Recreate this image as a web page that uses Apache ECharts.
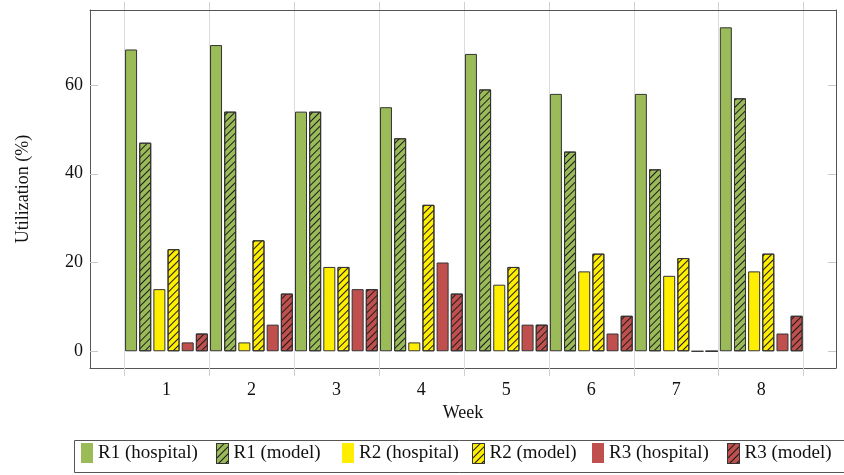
<!DOCTYPE html>
<html>
<head>
<meta charset="utf-8">
<script src="https://cdn.jsdelivr.net/npm/echarts@6/dist/echarts.min.js"></script>
<style>html,body{margin:0;padding:0;background:#fff}#c{width:844px;height:475px}</style>
</head>
<body>
<div id="c"></div>
<script>
// ---- data ----
const weeks = [1, 2, 3, 4, 5, 6, 7, 8];
const weekLabels = ['1', '2', '3', '4', '5', '6', '7', '8'];
const seriesNames = ['R1 (hospital)', 'R1 (model)', 'R2 (hospital)', 'R2 (model)', 'R3 (hospital)', 'R3 (model)'];
const r1Hospital = [68, 69, 54, 55, 67, 58, 58, 73];
const r1Model    = [47, 54, 54, 48, 59, 45, 41, 57];
const r2Hospital = [14, 2, 19, 2, 15, 18, 17, 18];
const r2Model    = [23, 25, 19, 33, 19, 22, 21, 22];
const r3Hospital = [2, 6, 14, 20, 6, 4, 0, 4];
const r3Model    = [4, 13, 14, 13, 6, 8, 0, 8];
const yTicks = [0, 20, 40, 60];
const weekBounds = [0.5, 1.5, 2.5, 3.5, 4.5, 5.5, 6.5, 7.5, 8.5];

const values = [r1Hospital, r1Model, r2Hospital, r2Model, r3Hospital, r3Model];
const colors = ['#9BBB59', '#9BBB59', '#FFEE00', '#FFEE00', '#C0504D', '#C0504D'];
const hatched = [false, true, false, true, false, true];

const FONT = 'Liberation Serif';
const FS = 18;

const hatch = {
  symbol: 'rect',
  symbolSize: 1,
  dashArrayX: [1, 0],
  dashArrayY: [1, 4],
  rotation: -Math.PI / 4,
  color: '#1a1a1a'
};

const series = seriesNames.map((name, i) => {
  const itemStyle = { color: colors[i], borderColor: '#333', borderWidth: 1 };
  if (hatched[i]) itemStyle.decal = hatch;
  return {
    name: name,
    type: 'bar',
    xAxisIndex: 0,
    yAxisIndex: 0,
    barWidth: 12,
    barGap: '18%',
    clip: false,
    itemStyle: itemStyle,
    emphasis: { disabled: true },
    data: weeks.map((w, j) => [w, values[i][j]])
  };
});

const legendLefts = [81, 216, 342, 472, 592, 727];
const legends = seriesNames.map((name, i) => ({
  data: [{ name: name, icon: 'rect' }],
  left: legendLefts[i],
  top: 443,
  itemWidth: 12,
  itemHeight: 20,
  itemGap: 0,
  padding: 0,
  selectedMode: false,
  itemStyle: hatched[i] ? { borderColor: '#333', borderWidth: 1 } : { borderWidth: 0 },
  textStyle: { fontFamily: FONT, fontSize: FS + 1, color: '#111' }
}));

const frameLine = { show: true, onZero: false, lineStyle: { color: '#555', width: 1 } };

const option = {
  animation: false,
  backgroundColor: '#fff',
  grid: { left: 90, top: 10, width: 746, height: 358, containLabel: false },
  legend: legends,
  xAxis: [
    {
      type: 'value', min: 0.1, max: 8.88, position: 'bottom',
      axisLine: frameLine,
      axisTick: { show: true, inside: false, length: 8, customValues: weekBounds, lineStyle: { color: '#d0d0d0' } },
      splitLine: { show: true, lineStyle: { color: '#dcdcdc', width: 1 } },
      axisLabel: { customValues: weeks, margin: 13, fontFamily: FONT, fontSize: FS, color: '#111',
        formatter: v => weekLabels[weeks.indexOf(Math.round(v))] || '' },
      name: 'Week', nameLocation: 'middle', nameGap: 34,
      nameTextStyle: { fontFamily: FONT, fontSize: FS, color: '#111' }
    },
    {
      type: 'value', min: 0.1, max: 8.88, position: 'top',
      axisLine: frameLine,
      axisTick: { show: true, inside: false, length: 8, customValues: weekBounds, lineStyle: { color: '#d0d0d0' } },
      splitLine: { show: false },
      axisLabel: { show: false }
    }
  ],
  yAxis: [
    {
      type: 'value', min: -3.77, max: 76.9, position: 'left',
      axisLine: frameLine,
      axisTick: { show: true, inside: true, length: 8, customValues: yTicks, lineStyle: { color: '#c8c8c8' } },
      splitLine: { show: false },
      axisLabel: { customValues: yTicks, margin: 7, fontFamily: FONT, fontSize: FS, color: '#111' },
      name: 'Utilization (%)', nameLocation: 'middle', nameGap: 58,
      nameTextStyle: { fontFamily: FONT, fontSize: FS, color: '#111' }
    },
    {
      type: 'value', min: -3.77, max: 76.9, position: 'right',
      axisLine: frameLine,
      axisTick: { show: true, inside: true, length: 8, customValues: yTicks, lineStyle: { color: '#c8c8c8' } },
      splitLine: { show: false },
      axisLabel: { show: false }
    }
  ],
  graphic: [
    { type: 'rect', silent: true, z: -1,
      shape: { x: 74.5, y: 440.5, width: 780, height: 32 },
      style: { fill: 'none', stroke: '#555', lineWidth: 1 } }
  ],
  series: series
};

const chart = echarts.init(document.getElementById('c'), null, { renderer: 'canvas' });
chart.setOption(option);
</script>
</body>
</html>
